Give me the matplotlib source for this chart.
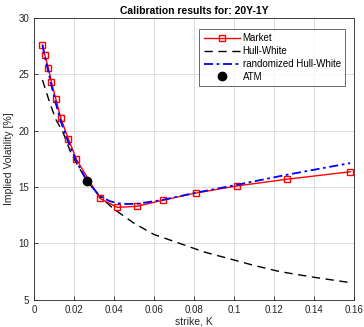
import matplotlib
matplotlib.use("Agg")
import matplotlib.pyplot as plt
from matplotlib.ticker import FuncFormatter

# Market quotes
strike_mkt = [0.0043, 0.0055, 0.0072, 0.0088, 0.0110, 0.0135, 0.0172, 0.0213,
              0.0330, 0.0417, 0.0517, 0.0647, 0.0808, 0.1013, 0.1265, 0.1580]
vol_mkt = [27.6, 26.7, 25.6, 24.3, 22.8, 21.1, 19.3, 17.45,
           14.0, 13.2, 13.3, 13.85, 14.47, 15.1, 15.7, 16.36]

# Hull-White model curve
strike_hw = [0.0043, 0.0080, 0.0110, 0.0147, 0.0188, 0.0230, 0.0267, 0.0330,
             0.0400, 0.0500, 0.0600, 0.0730, 0.0850, 0.0997, 0.1100, 0.1230, 0.1400, 0.1580]
vol_hw = [24.5, 22.45, 21.0, 19.8, 17.9, 16.6, 15.5, 14.15,
          13.05, 11.8, 10.8, 10.0, 9.25, 8.55, 8.05, 7.5, 7.0, 6.53]

# randomized Hull-White model curve
strike_rhw = [0.0043, 0.0055, 0.0072, 0.0088, 0.0110, 0.0135, 0.0172, 0.0213, 0.0267,
              0.0330, 0.0380, 0.0417, 0.0460, 0.0517, 0.0647, 0.0808, 0.1013, 0.1265, 0.1580]
vol_rhw = [27.6, 26.5, 25.3, 24.0, 22.4, 20.8, 19.0, 17.25, 15.5,
           14.2, 13.75, 13.58, 13.5, 13.52, 13.88, 14.5, 15.2, 16.1, 17.13]

# ATM point
strike_atm = [0.0267]
vol_atm = [15.5]

title = "Calibration results for: 20Y-1Y"

plt.rcParams['font.family'] = ['Liberation Sans', 'DejaVu Sans']
fig = plt.figure(figsize=(3.64, 3.27), dpi=100)
ax = fig.add_axes([0.093, 0.083, 0.880, 0.862])

ax.plot(strike_mkt, vol_mkt, color='red', lw=1.0, marker='s', markersize=4.5,
        markerfacecolor='none', markeredgecolor='red', markeredgewidth=1.0, label='Market', zorder=3)
ax.plot(strike_hw, vol_hw, color='black', lw=1.0, linestyle=(0, (6, 4)), label='Hull-White', zorder=2)
ax.plot(strike_rhw, vol_rhw, color='blue', lw=1.3, linestyle=(0, (5, 2, 1.5, 2)),
        label='randomized Hull-White', zorder=4)
ax.plot(strike_atm, vol_atm, 'o', color='black', markersize=6, label='ATM', zorder=5)

ax.set_xlim(0, 0.16)
ax.set_ylim(5, 30)
ax.set_xticks([0, 0.02, 0.04, 0.06, 0.08, 0.1, 0.12, 0.14, 0.16])
ax.set_yticks([5, 10, 15, 20, 25, 30])
ax.xaxis.set_major_formatter(FuncFormatter(lambda v, p: ('%g' % round(v, 4))))
ax.grid(True, color='#dcdcdc', lw=0.7)
ax.set_axisbelow(True)
ax.tick_params(labelsize=7, direction='in', length=3, colors='#262626', width=0.6)
for s in ax.spines.values():
    s.set_color('#262626')
    s.set_linewidth(0.6)

ax.set_xlabel('strike, K', fontsize=7.5, labelpad=1, color='#262626')
ax.set_ylabel('Implied Volatility [%]', fontsize=7.5, labelpad=3, color='#262626')
ax.set_title(title, fontsize=7.5, fontweight='bold', pad=3)

leg = ax.legend(loc='upper right', fontsize=7, handlelength=3.7, frameon=True, fancybox=False,
                edgecolor='#262626', borderpad=0.45, labelspacing=0.3, handletextpad=0.3,
                bbox_to_anchor=(0.972, 0.962), borderaxespad=0)
leg.get_frame().set_linewidth(0.6)

fig.savefig('out.png', dpi=100)
